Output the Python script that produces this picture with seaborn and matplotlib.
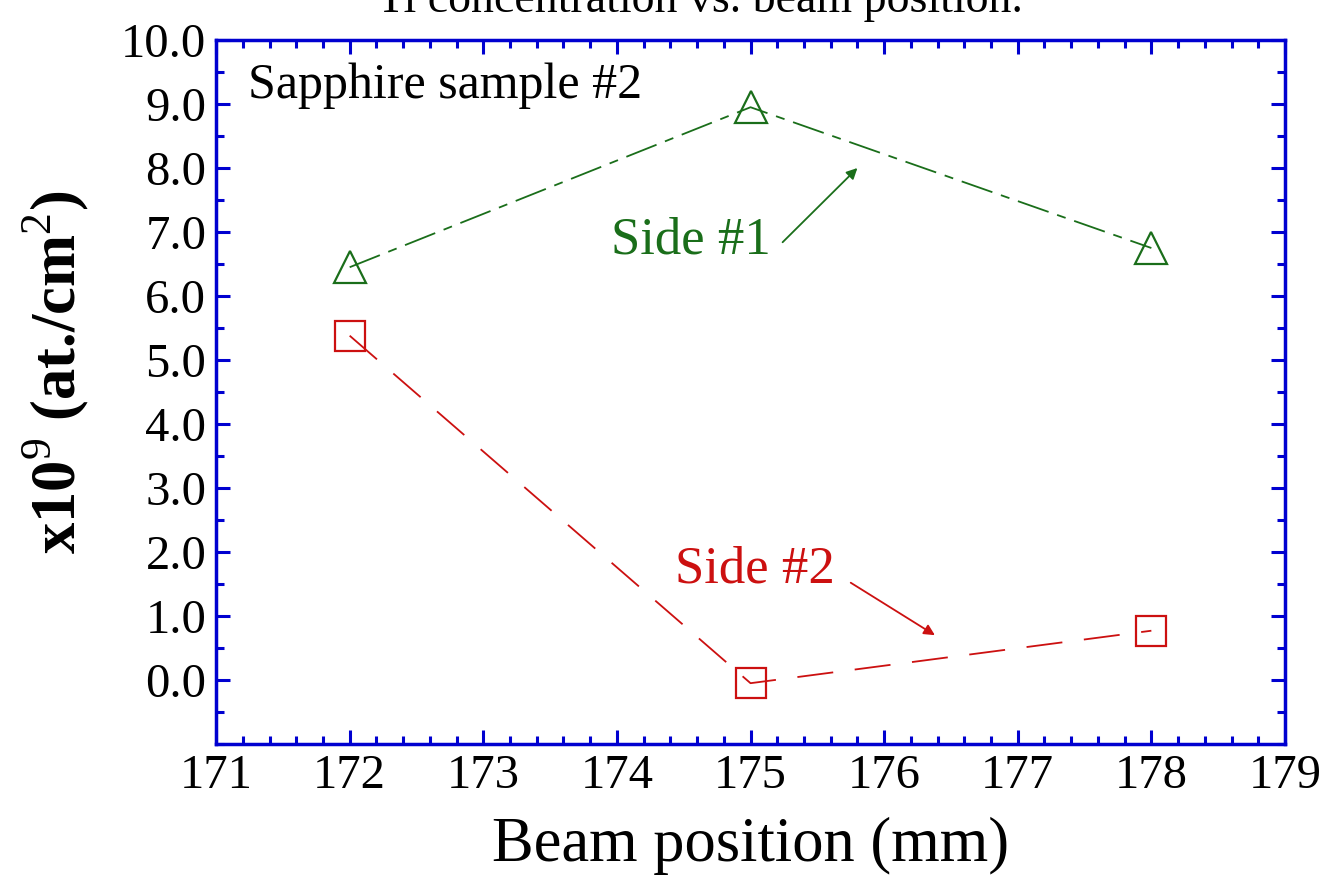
import pandas as pd
import seaborn as sns
import matplotlib.pyplot as plt
from matplotlib.ticker import MultipleLocator, FormatStrFormatter

# Data
positions = [172, 175, 178]
side1 = [6.45, 8.95, 6.75]
side2 = [5.38, -0.05, 0.77]
x_ticks = [171, 172, 173, 174, 175, 176, 177, 178, 179]

blue = "#0000d0"
green = "#1a6e1a"
red = "#cc1010"

sns.set_style("ticks")
plt.rcParams["font.family"] = ["Liberation Serif", "DejaVu Serif"]
plt.rcParams["mathtext.fontset"] = "custom"
plt.rcParams["mathtext.rm"] = "Liberation Serif"
plt.rcParams["text.color"] = "black"
plt.rcParams["axes.labelcolor"] = "black"
plt.rcParams["xtick.labelcolor"] = "black"
plt.rcParams["ytick.labelcolor"] = "black"

df1 = pd.DataFrame({"pos": positions, "conc": side1})
df2 = pd.DataFrame({"pos": positions, "conc": side2})

fig = plt.figure(figsize=(13.28, 8.76), dpi=100)
ax = fig.add_axes([0.1627, 0.1507, 0.8049, 0.8036])

sns.lineplot(data=df1, x="pos", y="conc", ax=ax, color=green, lw=1.3,
             linestyle=(0, (18, 5, 5, 5)), marker="^", markersize=23,
             markerfacecolor="none", markeredgecolor=green, markeredgewidth=1.6)
sns.lineplot(data=df2, x="pos", y="conc", ax=ax, color=red, lw=1.3,
             linestyle=(0, (20, 12)), marker="s", markersize=22,
             markerfacecolor="none", markeredgecolor=red, markeredgewidth=1.6)

ax.set_xlim(171, 179)
ax.set_ylim(-1, 10)
ax.set_xticks(x_ticks)
ax.xaxis.set_minor_locator(MultipleLocator(0.2))
ax.yaxis.set_minor_locator(MultipleLocator(0.5))
ax.set_yticks([i * 1.0 for i in range(0, 11)])
ax.yaxis.set_major_formatter(FormatStrFormatter("%.1f"))

for side in ax.spines.values():
    side.set_visible(True)
    side.set_color(blue)
    side.set_linewidth(2.5)
ax.tick_params(which="both", direction="in", top=True, right=True,
               color=blue, width=2.2, labelsize=35)
ax.tick_params(which="major", length=10, pad=7)
ax.tick_params(which="minor", length=5.5)

ax.set_xlabel("Beam position (mm)", fontsize=45, labelpad=14)
ax.set_ylabel(r"x10$^{9}$ (at./cm$^{2}$)", fontsize=45,
              fontweight="bold", labelpad=22, y=0.528)

ax.text(0.03, 0.935, "Sapphire sample #2", transform=ax.transAxes,
        fontsize=36, va="center", ha="left")

ax.text(175.15, 6.875, "Side #1", fontsize=38, color=green,
        ha="right", va="center")
ax.annotate("", xy=(175.80, 8.0), xytext=(175.24, 6.84),
            arrowprops=dict(arrowstyle="-|>", color=green, lw=1.3,
                            mutation_scale=16, shrinkA=0, shrinkB=0))
ax.text(175.63, 1.72, "Side #2", fontsize=38, color=red,
        ha="right", va="center")
ax.annotate("", xy=(176.38, 0.70), xytext=(175.75, 1.52),
            arrowprops=dict(arrowstyle="-|>", color=red, lw=1.3,
                            mutation_scale=16, shrinkA=0, shrinkB=0))

fig.text(0.527, 1 - 12 / 876, "Ti concentration vs. beam position.",
         fontsize=33, ha="center", va="baseline")

fig.savefig("out.png", dpi=100)
